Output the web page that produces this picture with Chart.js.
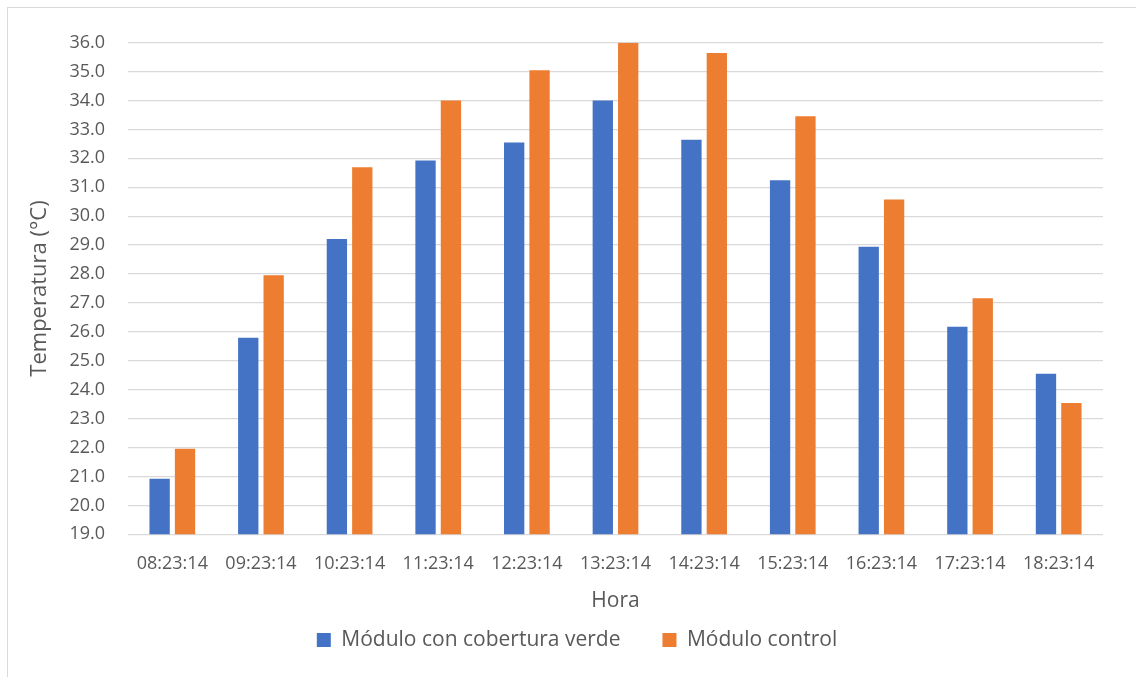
<!DOCTYPE html>
<html lang="es">
<head>
<meta charset="utf-8">
<title>Temperatura por hora</title>
<script src="https://cdn.jsdelivr.net/npm/chart.js@4/dist/chart.umd.min.js"></script>
<style>
  html, body { margin: 0; padding: 0; background: #ffffff; overflow: hidden; width: 1136px; height: 677px; }
  #frame { position: absolute; left: 7px; top: 7px; border: 1px solid #d9d9d9; background: #ffffff; }
  canvas { display: block; }
</style>
</head>
<body>
<div id="frame"><canvas id="chart" width="1141" height="669"></canvas></div>
<script>
// Hourly readings (°C)
const horas = ['08:23:14', '09:23:14', '10:23:14', '11:23:14', '12:23:14', '13:23:14',
               '14:23:14', '15:23:14', '16:23:14', '17:23:14', '18:23:14'];
const moduloVerde = [20.92, 25.80, 29.21, 31.93, 32.55, 34.0, 32.64, 31.24, 28.94, 26.18, 24.55];
const moduloControl = [21.96, 27.96, 31.69, 34.0, 35.05, 36.0, 35.64, 33.46, 30.58, 27.16, 23.54];
const nombresSeries = ['Módulo con cobertura verde', 'Módulo control'];
const yMin = 19, yMax = 36, yPaso = 1;

const textColor = '#595959';
const gridColor = '#d9d9d9';
const fontFamily = '"Open Sans", "Liberation Sans", sans-serif';

Chart.defaults.font.family = fontFamily;
Chart.defaults.color = textColor;

new Chart(document.getElementById('chart'), {
  type: 'bar',
  data: {
    labels: horas,
    datasets: [
      { label: nombresSeries[0], data: moduloVerde, backgroundColor: '#4472c4', borderWidth: 0 },
      { label: nombresSeries[1], data: moduloControl, backgroundColor: '#ed7d31', borderWidth: 0 }
    ]
  },
  options: {
    responsive: false,
    animation: false,
    devicePixelRatio: 1,
    layout: { padding: { left: 43, right: 46, top: 34.7, bottom: 16.5 } },
    datasets: { bar: { categoryPercentage: 0.573, barPercentage: 0.8 } },
    plugins: {
      tooltip: { enabled: false },
      legend: {
        position: 'bottom',
        labels: {
          boxWidth: 14,
          boxHeight: 14,
          padding: 42,
          color: textColor,
          font: { size: 21 }
        }
      }
    },
    scales: {
      x: {
        grid: { display: false, drawTicks: false },
        border: { display: false },
        ticks: { autoSkip: false, maxRotation: 0, minRotation: 0, padding: 19, color: textColor, font: { size: 18 } },
        title: { display: true, text: 'Hora', color: textColor, font: { size: 21 }, padding: { top: 0, bottom: -26.1 } },
        afterFit: (scale) => { scale.height = 53.2; }
      },
      y: {
        min: yMin,
        max: yMax,
        grid: { color: gridColor, lineWidth: 1.3, drawTicks: false },
        border: { display: false },
        ticks: {
          stepSize: yPaso,
          padding: 23,
          color: textColor,
          font: { size: 18 },
          callback: (v) => Number(v).toFixed(1)
        },
        title: { display: true, text: 'Temperatura (°C)', color: textColor, font: { size: 22 }, padding: { top: -24.2, bottom: 0 } },
        afterFit: (scale) => { scale.width = 77; }
      }
    }
  }
});
</script>
</body>
</html>
